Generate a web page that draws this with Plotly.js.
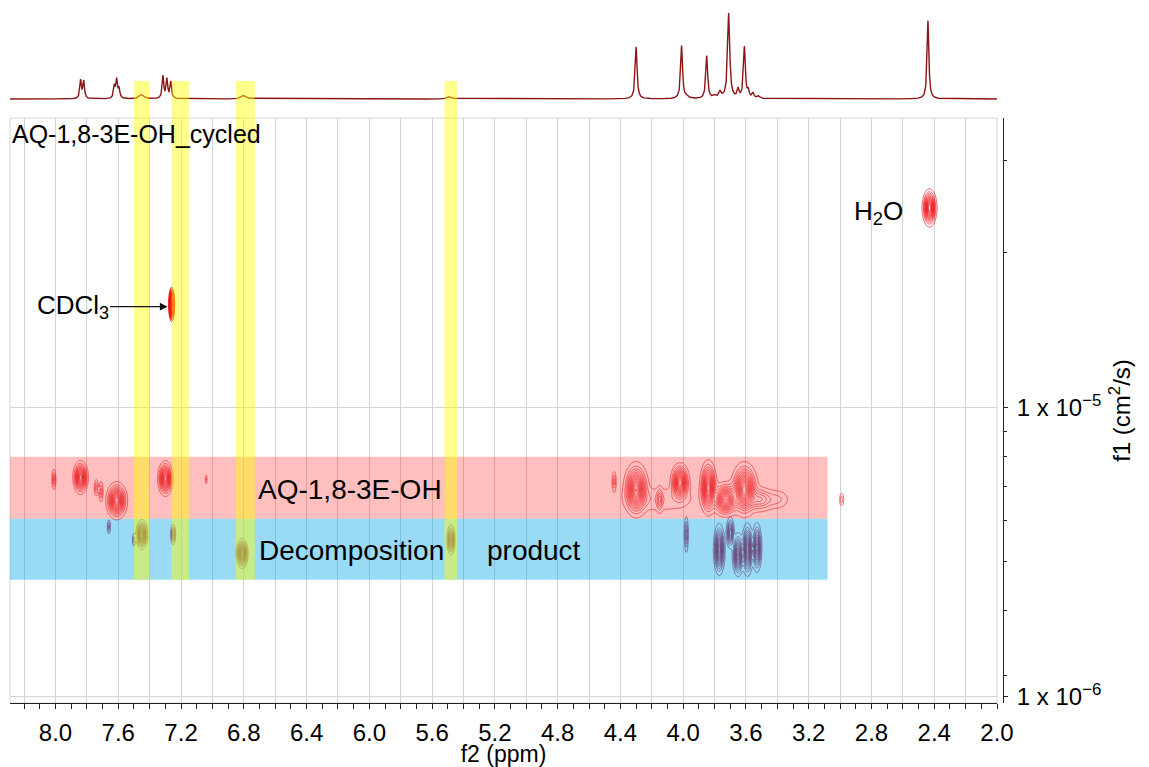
<!DOCTYPE html>
<html><head><meta charset="utf-8">
<script src="https://cdn.plot.ly/plotly-3.0.1.min.js"></script>
<style>html,body{margin:0;padding:0;background:#fff}#chart{width:1149px;height:767px}</style>
</head><body><div id="chart"></div>
<script>
// ---------- 1D 1H spectrum (top projection): peak centre (ppm), height, FWHM (ppm)
const specPpm    = [7.84, 7.82, 7.625, 7.61, 7.595, 7.45, 7.315, 7.29, 7.265, 6.80, 5.49, 4.30, 4.01, 3.975, 3.85, 3.80, 3.765, 3.71, 3.65, 3.61, 3.585, 3.555, 3.52, 2.44];
const specHeight = [21, 20, 14, 21, 11, 5, 26, 22, 19, 4, 3, 60, 61, 2, 49, 3, 7, 98, 10, 59, 8, 6, 3, 90];
const specFwhm   = [0.012, 0.012, 0.012, 0.012, 0.012, 0.035, 0.012, 0.012, 0.012, 0.035, 0.03, 0.014, 0.014, 0.02, 0.014, 0.02, 0.02, 0.016, 0.014, 0.014, 0.014, 0.014, 0.02, 0.013];

// ---------- DOSY cross peaks: AQ-1,8-3E-OH (red)
const aqPpm  = [8.01, 7.84, 7.74, 7.71, 7.61, 7.30, 7.04, 4.44, 4.30, 4.15, 4.15, 4.02, 3.84, 3.73, 3.61, 3.51, 3.40, 2.99];
const aqD    = [5.64e-6, 5.73e-6, 5.28e-6, 5.12e-6, 4.76e-6, 5.68e-6, 5.64e-6, 5.54e-6, 5.20e-6, 4.81e-6, 4.81e-6, 5.50e-6, 5.28e-6, 4.81e-6, 5.20e-6, 4.81e-6, 4.81e-6, 4.81e-6];
const aqAmp  = [0.25, 1, 0.2, 0.2, 1, 1, 0.12, 0.2, 1, 0.25, 0.1, 1, 1, 0.9, 1, 0.3, 0.12, 0.15];
const aqLwPpm = [0.013, 0.05, 0.013, 0.013, 0.07, 0.05, 0.006, 0.013, 0.083, 0.02, 0.19, 0.064, 0.057, 0.09, 0.09, 0.09, 0.064, 0.013];
const aqLwLogD = [0.035, 0.059, 0.028, 0.035, 0.066, 0.062, 0.014, 0.035, 0.097, 0.042, 0.035, 0.069, 0.097, 0.062, 0.097, 0.042, 0.028, 0.021];

// ---------- DOSY cross peaks: decomposition product (purple)
const dpPpm  = [7.66, 7.50, 7.45, 7.25, 6.81, 5.48, 3.98, 3.77, 3.70, 3.65, 3.59, 3.53];
const dpD    = [3.87e-6, 3.49e-6, 3.64e-6, 3.64e-6, 3.13e-6, 3.49e-6, 3.64e-6, 3.23e-6, 3.69e-6, 3.10e-6, 3.23e-6, 3.28e-6];
const dpAmp  = [0.2, 0.15, 1, 0.4, 1, 0.7, 0.3, 1, 0.6, 0.9, 1, 0.8];
const dpLwPpm = [0.01, 0.01, 0.038, 0.016, 0.038, 0.026, 0.013, 0.038, 0.026, 0.038, 0.038, 0.032];
const dpLwLogD = [0.024, 0.021, 0.052, 0.035, 0.052, 0.052, 0.062, 0.09, 0.055, 0.076, 0.093, 0.087];

// ---------- solvent peaks: H2O, CDCl3
const solvName = ['H2O', 'CDCl3'];
const solvPpm  = [2.43, 7.26];
const solvD    = [4.89e-5, 2.27e-5];
const solvAmp  = [1, 1];
const solvLwPpm = [0.048, 0.019];
const solvLwLogD = [0.066, 0.059];

// ---------- highlight bands
const aqBandD   = [4.13e-6, 6.76e-6];
const dpBandD   = [2.54e-6, 4.13e-6];
const bandPpm   = [8.29, 3.08];
const yellowPpm = [[7.50, 7.40], [7.26, 7.15], [6.85, 6.73], [5.52, 5.44]];

// ---------- axis ticks
const xTickVals = [8.2, 8.0, 7.8, 7.6, 7.4, 7.2, 7.0, 6.8, 6.6, 6.4, 6.2, 6.0, 5.8, 5.6, 5.4, 5.2, 5.0, 4.8, 4.6, 4.4, 4.2, 4.0, 3.8, 3.6, 3.4, 3.2, 3.0, 2.8, 2.6, 2.4, 2.2, 2.0];
const xTickText = ['', '8.0', '', '7.6', '', '7.2', '', '6.8', '', '6.4', '', '6.0', '', '5.6', '', '5.2', '', '4.8', '', '4.4', '', '4.0', '', '3.6', '', '3.2', '', '2.8', '', '2.4', '', '2.0'];
const xMinorVals = [8.1, 7.9, 7.7, 7.5, 7.3, 7.1, 6.9, 6.7, 6.5, 6.3, 6.1, 5.9, 5.7, 5.5, 5.3, 5.1, 4.9, 4.7, 4.5, 4.3, 4.1, 3.9, 3.7, 3.5, 3.3, 3.1, 2.9, 2.7, 2.5, 2.3, 2.1];
const yTickVals = [1e-6, 1e-5];
const yTickText = ['1 x 10<sup>\u22126</sup>', '1 x 10<sup>\u22125</sup>'];
const yMinorVals = [1.19e-6, 1.99e-6, 2.94e-6, 4.06e-6, 5.32e-6, 6.75e-6, 8.28e-6, 3.43e-5, 7.16e-5];

// ---------- layout constants
const FONT = 'Liberation Sans, Arial, Helvetica, sans-serif';
const X_RANGE = [8.29, 2.0];
const Y_RANGE = [-6.021, -4.0];
const Y_DOM = [0, 0.8381];
const BASE = 0.04;

function peakGrid(pp, dd, amps, lwp, lwl, xr, lyr) {
  const dx = 0.0025, dy = 0.003;
  const xs = [], lys = [];
  for (let i = 0; xr[0] + i * dx <= xr[1] + 1e-9; i++) xs.push(xr[0] + i * dx);
  for (let j = 0; lyr[0] + j * dy <= lyr[1] + 1e-9; j++) lys.push(lyr[0] + j * dy);
  const pk = pp.map((p, i) => {
    const k = Math.sqrt(2 * Math.log(amps[i] / BASE));
    return {x: p, ly: Math.log10(dd[i]), a: amps[i], sx: lwp[i] / k, sy: lwl[i] / k};
  });
  const z = lys.map(ly => xs.map(x => {
    let s = 0;
    for (const q of pk) {
      const u = (x - q.x) / q.sx, v = (ly - q.ly) / q.sy;
      const r = u * u + v * v;
      if (r < 50) s += q.a * Math.exp(-0.5 * r);
    }
    return s;
  }));
  return {x: xs, y: lys.map(l => Math.pow(10, l)), z: z};
}

function contourTrace(g, color, width, size) {
  return {type: 'contour', x: g.x, y: g.y, z: g.z, xaxis: 'x', yaxis: 'y',
    autocontour: false,
    contours: {coloring: 'none', start: BASE, end: 3, size: size, showlabels: false},
    line: {color: color, width: width, smoothing: 1},
    showscale: false, hoverinfo: 'skip', showlegend: false};
}

// spectrum trace
const sX = [], sY = [];
for (let i = 0; 2.0 + i * 0.001 <= 8.29; i++) {
  const p = 2.0 + i * 0.001;
  let s = 0;
  for (let k = 0; k < specPpm.length; k++) {
    const h = specFwhm[k] / 2, d = p - specPpm[k];
    s += specHeight[k] * h * h / (d * d + h * h);
  }
  sX.push(p); sY.push(s);
}

const gAQ = peakGrid(aqPpm, aqD, aqAmp, aqLwPpm, aqLwLogD, [2.9, 8.12], [-5.45, -5.12]);
const gDP = peakGrid(dpPpm, dpD, dpAmp, dpLwPpm, dpLwLogD, [3.35, 7.75], [-5.64, -5.33]);
const gH2O = peakGrid([solvPpm[0]], [solvD[0]], [solvAmp[0]], [solvLwPpm[0]], [solvLwLogD[0]], [2.33, 2.53], [-4.42, -4.2]);
const gCDCl = peakGrid([solvPpm[1]], [solvD[1]], [solvAmp[1]], [solvLwPpm[1]], [solvLwLogD[1]], [7.21, 7.31], [-4.74, -4.54]);

const data = [
  {type: 'scatter', mode: 'lines', x: sX, y: sY, xaxis: 'x2', yaxis: 'y2',
   line: {color: 'rgb(140,20,22)', width: 1.4}, hoverinfo: 'skip', showlegend: false},
  contourTrace(gAQ, 'rgba(235,36,40,0.85)', 0.8, 0.065),
  contourTrace(gDP, 'rgba(105,72,122,0.9)', 0.8, 0.07),
  contourTrace(gH2O, 'rgba(238,28,34,0.9)', 0.8, 0.06),
  contourTrace(gCDCl, 'rgba(245,20,20,1)', 1.0, 0.035)
];

function paperY(D) {
  return Y_DOM[0] + (Math.log10(D) - Y_RANGE[0]) / (Y_RANGE[1] - Y_RANGE[0]) * (Y_DOM[1] - Y_DOM[0]);
}

const shapes = [
  {type: 'rect', xref: 'x domain', yref: 'y domain', x0: 0, x1: 1, y0: 0, y1: 1,
   line: {color: '#d6d6d6', width: 1}, fillcolor: 'rgba(0,0,0,0)', layer: 'below'},
  {type: 'rect', xref: 'x', yref: 'y', x0: bandPpm[0], x1: bandPpm[1], y0: aqBandD[0], y1: aqBandD[1],
   fillcolor: 'rgba(255,0,0,0.25)', line: {width: 0}, layer: 'between'},
  {type: 'rect', xref: 'x', yref: 'y', x0: bandPpm[0], x1: bandPpm[1], y0: dpBandD[0], y1: dpBandD[1],
   fillcolor: 'rgba(0,165,230,0.4)', line: {width: 0}, layer: 'between'}
];
yellowPpm.forEach(b => shapes.push({type: 'rect', xref: 'x', yref: 'paper', x0: b[0], x1: b[1],
  y0: paperY(dpBandD[0]), y1: 0.891, fillcolor: 'rgba(255,255,0,0.45)', line: {width: 0}, layer: 'above'}));

const annotations = [
  {xref: 'x domain', yref: 'y domain', x: 0, y: 1, xanchor: 'left', yanchor: 'top', showarrow: false,
   text: 'AQ-1,8-3E-OH_cycled', font: {family: FONT, size: 25, color: '#000'}},
  {xref: 'x', yref: 'y', x: 2.585, y: Math.log10(4.73e-5), xanchor: 'right', showarrow: false,
   text: 'H<sub>2</sub>O', font: {family: FONT, size: 26, color: '#000'}},
  {xref: 'x', yref: 'y', x: 7.286, y: Math.log10(2.23e-5), showarrow: true, ax: -95, ay: 0,
   arrowhead: 2, arrowsize: 1.1, arrowwidth: 1.4, arrowcolor: '#111', standoff: 0,
   text: 'CDCl<sub>3</sub>', font: {family: FONT, size: 26, color: '#000'}},
  {xref: 'x', yref: 'y', x: 6.725, y: Math.log10(5.20e-6), xanchor: 'left', showarrow: false,
   text: 'AQ-1,8-3E-OH', font: {family: FONT, size: 28, color: '#000'}},
  {xref: 'x', yref: 'y', x: 6.718, y: Math.log10(3.20e-6), xanchor: 'left', showarrow: false,
   text: 'Decomposition', font: {family: FONT, size: 28, color: '#000'}},
  {xref: 'x', yref: 'y', x: 5.264, y: Math.log10(3.20e-6), xanchor: 'left', showarrow: false,
   text: 'product', font: {family: FONT, size: 28, color: '#000'}}
];

const layout = {
  width: 1149, height: 767,
  margin: {l: 10, r: 146, t: 5, b: 64},
  paper_bgcolor: '#fff', plot_bgcolor: 'rgba(0,0,0,0)',
  font: {family: FONT, color: '#000'},
  showlegend: false,
  xaxis: {domain: [0, 0.994], range: X_RANGE, anchor: 'y',
    tickmode: 'array', tickvals: xTickVals, ticktext: xTickText,
    ticks: 'outside', ticklen: 5, tickcolor: '#222', tickwidth: 1,
    showline: true, linecolor: '#222', linewidth: 1,
    showgrid: true, gridcolor: '#d4d4d4', gridwidth: 1, zeroline: false,
    minor: {tickmode: 'array', tickvals: xMinorVals, ticks: 'outside', ticklen: 5, tickcolor: '#222',
            showgrid: false, gridcolor: 'rgba(0,0,0,0)'},
    tickfont: {family: FONT, size: 24, color: '#000'}, ticklabelstandoff: 3,
    title: {text: 'f2 (ppm)', font: {family: FONT, size: 23, color: '#000'}, standoff: 0}},
  yaxis: {domain: Y_DOM, type: 'log', range: Y_RANGE, anchor: 'free', position: 1, side: 'right',
    tickmode: 'array', tickvals: yTickVals, ticktext: yTickText,
    ticks: 'outside', ticklen: 4, tickcolor: '#222',
    showline: true, linecolor: '#222', linewidth: 1,
    showgrid: true, gridcolor: '#d4d4d4', zeroline: false,
    minor: {tickmode: 'array', tickvals: yMinorVals, ticks: 'outside', ticklen: 3, tickcolor: '#222',
            showgrid: false, gridcolor: 'rgba(0,0,0,0)'},
    tickfont: {family: FONT, size: 24, color: '#000'}, ticklabelstandoff: 4,
    title: {text: 'f1 (cm<sup>2</sup>/s)', font: {family: FONT, size: 24, color: '#000'}, standoff: 12}},
  xaxis2: {domain: [0, 0.994], range: X_RANGE, anchor: 'y2', visible: false},
  yaxis2: {domain: [0.8625, 1], range: [-2.3, 108], anchor: 'x2', visible: false},
  shapes: shapes,
  annotations: annotations
};

Plotly.newPlot('chart', data, layout, {displayModeBar: false, staticPlot: true});
</script>
</body></html>
